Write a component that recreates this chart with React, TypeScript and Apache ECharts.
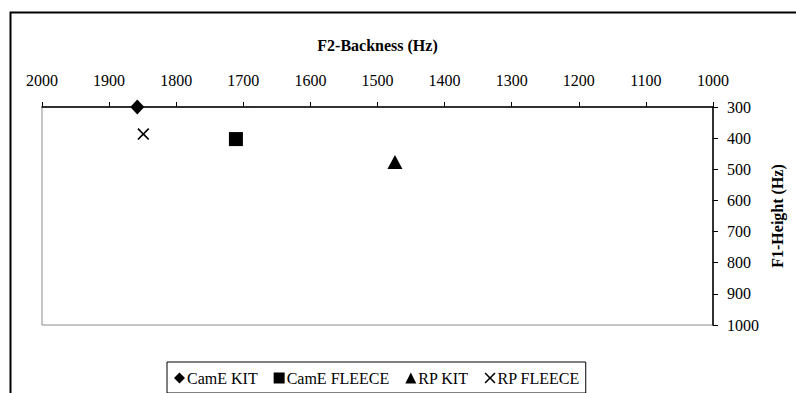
import React, { useEffect, useRef } from "react";
import * as echarts from "echarts";

// Vowel formant measurements: [F2 (Hz), F1 (Hz)]
const seriesNames = ["CamE KIT", "CamE FLEECE", "RP KIT", "RP FLEECE"];
const cameKit: number[][] = [[1858, 300]];
const cameFleece: number[][] = [[1711, 403]];
const rpKit: number[][] = [[1474, 477]];
const rpFleece: number[][] = [[1849, 387]];

const f2Ticks = { min: 1000, max: 2000, step: 100 };
const f1Ticks = { min: 300, max: 1000, step: 100 };

const FONT = "Liberation Serif";
const CROSS = "path://M0,1L1,0L5,4L9,0L10,1L6,5L10,9L9,10L5,6L1,10L0,9L4,5Z";

export default function App() {
  const ref = useRef<HTMLDivElement>(null);

  useEffect(() => {
    if (!ref.current) return;
    const chart = echarts.init(ref.current, undefined, { renderer: "svg" });

    const mk = (name: string, data: number[][], symbol: string, size: number | number[]) => ({
      name,
      type: "scatter",
      data,
      symbol,
      symbolSize: size,
      itemStyle: { color: "#000", opacity: 1 },
    });

    const plain = (v: number) => String(v);

    chart.setOption({
      animation: false,
      backgroundColor: "#fff",
      textStyle: { fontFamily: FONT },
      grid: { left: 42, right: 83, top: 107, bottom: 68, show: true, borderColor: "#8c8c8c", borderWidth: 1 },
      xAxis: {
        type: "value",
        position: "top",
        inverse: true,
        min: f2Ticks.min,
        max: f2Ticks.max,
        interval: f2Ticks.step,
        name: "F2-Backness (Hz)",
        nameLocation: "middle",
        nameGap: 54,
        nameTextStyle: { fontFamily: FONT, fontWeight: "bold", fontSize: 16, color: "#000" },
        axisLine: { show: true, lineStyle: { color: "#000", width: 1.5 } },
        axisTick: { show: true, inside: false, length: 5, lineStyle: { color: "#000", width: 1 } },
        axisLabel: { margin: 19, fontFamily: FONT, fontSize: 16, color: "#000", formatter: plain },
        splitLine: { show: false },
      },
      yAxis: {
        type: "value",
        position: "right",
        inverse: true,
        min: f1Ticks.min,
        max: f1Ticks.max,
        interval: f1Ticks.step,
        name: "F1-Height (Hz)",
        nameLocation: "middle",
        nameGap: 56,
        nameRotate: 90,
        nameTextStyle: { fontFamily: FONT, fontWeight: "bold", fontSize: 16, color: "#000" },
        axisLine: { show: true, lineStyle: { color: "#000", width: 1.5 } },
        axisTick: { show: true, inside: false, length: 5, lineStyle: { color: "#000", width: 1 } },
        axisLabel: { margin: 14, fontFamily: FONT, fontSize: 16, color: "#000", formatter: plain },
        splitLine: { show: false },
      },
      legend: {
        data: seriesNames,
        left: 167,
        top: 362,
        orient: "horizontal",
        itemWidth: 11,
        itemHeight: 11,
        itemGap: 16,
        padding: [8, 6, 7, 7],
        borderColor: "#000",
        borderWidth: 1,
        textStyle: { fontFamily: FONT, fontSize: 16, color: "#000", padding: [0, 0, 0, -3] },
      },
      graphic: [
        {
          type: "rect",
          left: 8,
          top: 10,
          shape: { x: 0, y: 0, width: 900, height: 500 },
          style: { fill: "none", stroke: "#000", lineWidth: 2 },
          silent: true,
          z: -1,
        },
      ],
      series: [
        mk(seriesNames[0], cameKit, "diamond", [14, 15]),
        mk(seriesNames[1], cameFleece, "rect", 14),
        mk(seriesNames[2], rpKit, "triangle", [15, 14]),
        mk(seriesNames[3], rpFleece, CROSS, 12),
      ],
    });

    return () => chart.dispose();
  }, []);

  return (
    <div
      ref={ref}
      style={{ position: "fixed", left: 0, top: 0, width: 796, height: 393, overflow: "hidden" }}
    />
  );
}
